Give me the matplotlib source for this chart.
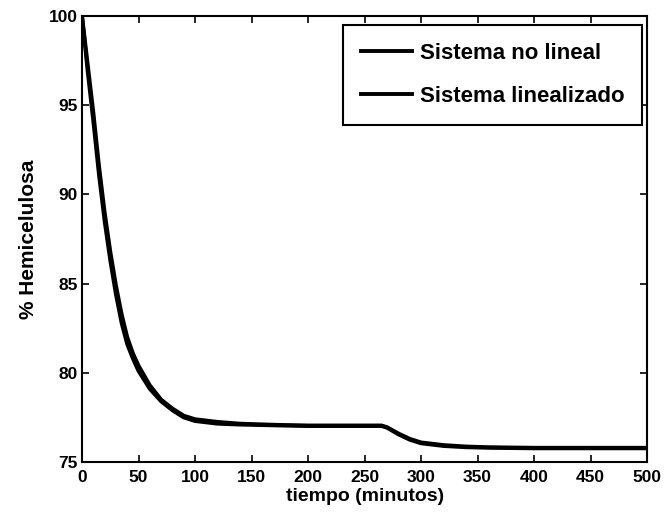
import matplotlib
matplotlib.use("Agg")
from matplotlib import pyplot as plt

# tiempo (minutos) y % hemicelulosa
tiempo = [0, 5, 10, 15, 20, 25, 30, 35, 40, 45, 50, 60, 70, 80, 90, 100,
          120, 140, 175, 200, 250, 265, 270, 280, 290, 300, 320, 340, 360,
          400, 450, 500]
no_lineal = [100, 97.3, 94.6, 91.6, 89.0, 86.8, 84.9, 83.3, 82.0, 81.1, 80.4,
             79.3, 78.5, 78.0, 77.6, 77.4, 77.25, 77.15, 77.08, 77.05, 77.05,
             77.05, 76.95, 76.6, 76.3, 76.1, 75.95, 75.87, 75.83, 75.8, 75.8, 75.8]
linealizado = [100, 96.9, 94.1, 91.1, 88.5, 86.3, 84.4, 82.8, 81.6, 80.8, 80.1,
               79.1, 78.4, 77.9, 77.5, 77.3, 77.15, 77.1, 77.05, 77.02, 77.02,
               77.02, 76.92, 76.55, 76.25, 76.05, 75.9, 75.83, 75.8, 75.77, 75.77, 75.77]

xticks = list(range(0, 501, 50))
yticks = list(range(75, 101, 5))

plt.rcParams['font.family'] = ['Liberation Sans', 'DejaVu Sans']
plt.rcParams['font.weight'] = 'bold'

fig = plt.figure(figsize=(6.68, 5.18), dpi=100)
ax = fig.add_axes([0.1228, 0.108, 0.846, 0.861])

ax.plot(tiempo, no_lineal, color='black', lw=2.8, label='Sistema no lineal')
ax.plot(tiempo, linealizado, color='black', lw=2.8, label='Sistema linealizado')

ax.set_xlim(0, 500)
ax.set_ylim(75, 100)
ax.set_xticks(xticks)
ax.set_yticks(yticks)
ax.tick_params(axis='both', direction='in', length=5, width=1.2, top=True,
               right=True, labelsize=12.5)
ax.tick_params(axis='x', pad=6)
ax.tick_params(axis='y', pad=3)
for lab in ax.get_xticklabels() + ax.get_yticklabels():
    lab.set_fontweight('bold')
for sp in ax.spines.values():
    sp.set_linewidth(1.5)

ax.set_xlabel('tiempo (minutos)', fontsize=14, fontweight='bold', labelpad=2)
ax.set_ylabel('% Hemicelulosa', fontsize=15, fontweight='bold', labelpad=8)

leg = ax.legend(loc='upper right', bbox_to_anchor=(0.991, 0.980),
                borderaxespad=0, fancybox=False, framealpha=1,
                edgecolor='black', handlelength=2.3, handletextpad=0.36,
                borderpad=0.8, labelspacing=1.0,
                prop={'weight': 'bold', 'size': 16})
leg.get_frame().set_linewidth(1.5)

fig.savefig('out.png', dpi=100)
